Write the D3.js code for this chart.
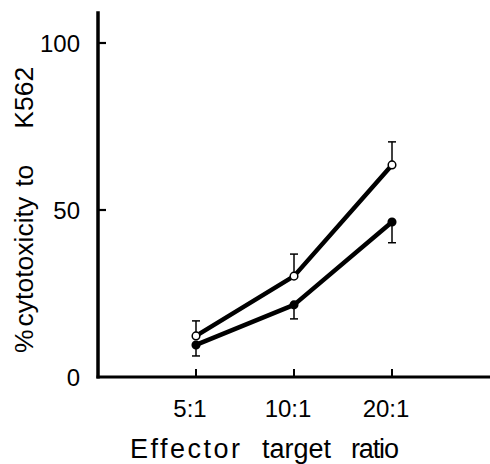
<!DOCTYPE html>
<html>
<head>
<meta charset="utf-8">
<script src="https://cdn.jsdelivr.net/npm/d3@7"></script>
<style>
  body { margin: 0; background: #fff; }
  svg text { font-family: "Liberation Sans", Arial, sans-serif; fill: #000; }
</style>
</head>
<body>
<svg id="chart" width="490" height="464"></svg>
<script>
// effector:target ratios
const ratios = ["5:1", "10:1", "20:1"];
// open circles
const openMean = [12.3, 30.2, 63.5];
const openErr = [4.5, 6.6, 6.9];
// filled circles
const filledMean = [9.6, 21.6, 46.4];
const filledErr = [3.3, 4.2, 6.2];
const yTicks = [0, 50, 100];

const svg = d3.select("#chart");

const x = d3.scaleLinear().domain([-1, 3]).range([98, 490]);
const y = d3.scaleLinear().domain([0, 100]).range([377, 43]);

// ---- axes ----
svg.append("line")
    .attr("x1", x(-1)).attr("x2", x(-1))
    .attr("y1", y(0) + 1.5).attr("y2", y(109.5))
    .attr("stroke", "#000").attr("stroke-width", 3.5);
svg.append("line")
    .attr("x1", x(-1) - 1.5).attr("x2", x(3))
    .attr("y1", y(0)).attr("y2", y(0))
    .attr("stroke", "#000").attr("stroke-width", 3);

svg.selectAll(".ytick").data(yTicks.filter(d => d > 0)).enter().append("line")
    .attr("x1", x(-1)).attr("x2", x(-1) + 8)
    .attr("y1", d => y(d)).attr("y2", d => y(d))
    .attr("stroke", "#000").attr("stroke-width", 2.2);

svg.selectAll(".ylab").data(yTicks).enter().append("text")
    .attr("x", 80).attr("y", d => y(d))
    .attr("dy", "0.36em")
    .attr("text-anchor", "end")
    .attr("font-size", 24)
    .text(d => d);

svg.selectAll(".xtick").data(ratios).enter().append("line")
    .attr("x1", (d, i) => x(i)).attr("x2", (d, i) => x(i))
    .attr("y1", y(0)).attr("y2", y(0) - 8)
    .attr("stroke", "#000").attr("stroke-width", 2);

svg.selectAll(".xlab").data(ratios).enter().append("text")
    .attr("x", (d, i) => x(i) - 6).attr("y", 417)
    .attr("text-anchor", "middle")
    .attr("font-size", 24)
    .text(d => d);

// x title, words spread apart as in the figure
const xt = svg.append("text").attr("y", 458).attr("font-size", 27);
xt.append("tspan").attr("x", 130).attr("textLength", 110).text("Effector");
xt.append("tspan").attr("x", 262).text("target");
xt.append("tspan").attr("x", 351).attr("textLength", 48).text("ratio");

// y title
const yt = svg.append("text")
    .attr("transform", "translate(33,353) rotate(-90)")
    .attr("font-size", 26.5);
yt.append("tspan").text("%");
yt.append("tspan").attr("dx", 3).text("cytotoxicity");
yt.append("tspan").attr("dx", 10).text("to");
yt.append("tspan").attr("dx", 36).text("K562");

// ---- series ----
const line = d3.line().x((d, i) => x(i)).y(d => y(d));

function drawSeries(mean, err, dir, fill) {
    const g = svg.append("g");
    g.selectAll(".err").data(mean).enter().append("line")
        .attr("x1", (d, i) => x(i)).attr("x2", (d, i) => x(i))
        .attr("y1", d => y(d))
        .attr("y2", (d, i) => y(d + dir * err[i]))
        .attr("stroke", "#000").attr("stroke-width", 1.5);
    g.selectAll(".cap").data(mean).enter().append("line")
        .attr("x1", (d, i) => x(i) - 4).attr("x2", (d, i) => x(i) + 4)
        .attr("y1", (d, i) => y(d + dir * err[i]))
        .attr("y2", (d, i) => y(d + dir * err[i]))
        .attr("stroke", "#000").attr("stroke-width", 1.5);
    g.append("path")
        .datum(mean)
        .attr("d", line)
        .attr("fill", "none")
        .attr("stroke", "#000")
        .attr("stroke-width", 4.5)
        .attr("stroke-linejoin", "round");
    g.selectAll(".pt").data(mean).enter().append("circle")
        .attr("cx", (d, i) => x(i)).attr("cy", d => y(d))
        .attr("r", 3.8)
        .attr("fill", fill)
        .attr("stroke", "#000").attr("stroke-width", 1.5);
}

drawSeries(filledMean, filledErr, -1, "#000");
drawSeries(openMean, openErr, 1, "#fff");
</script>
</body>
</html>
